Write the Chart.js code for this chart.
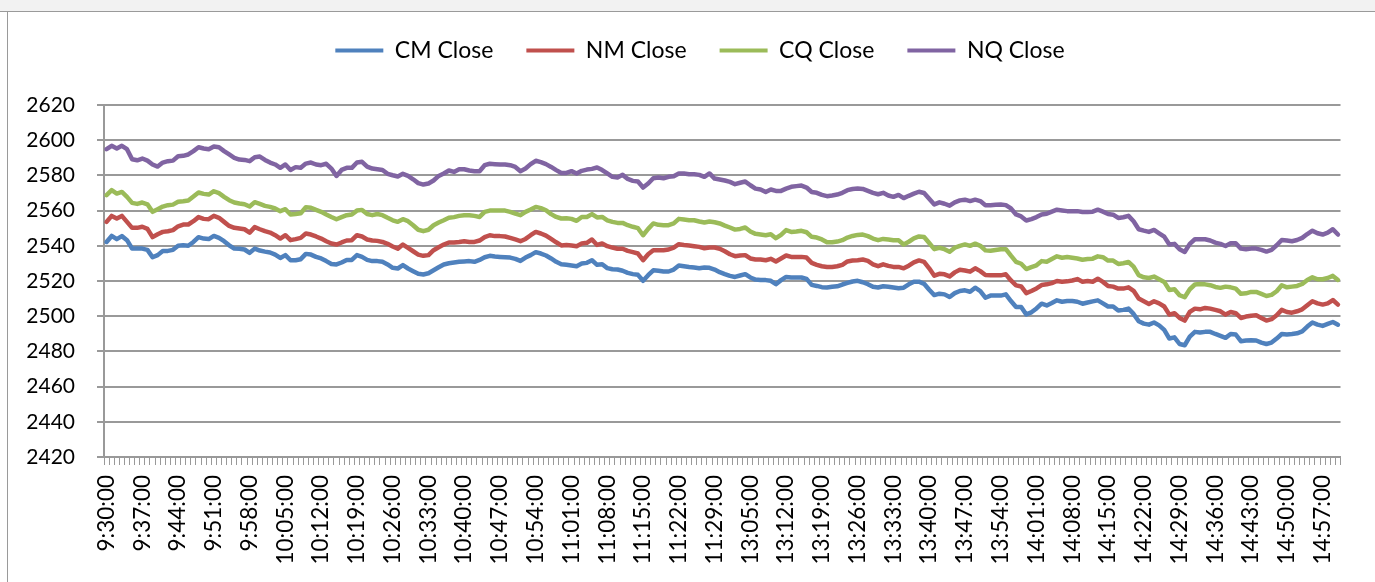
<!DOCTYPE html>
<html>
<head>
<meta charset="utf-8">
<script src="https://cdn.jsdelivr.net/npm/chart.js@4.4.0/dist/chart.umd.min.js"></script>
<style>
  html, body { margin: 0; padding: 0; background: #fff; }
  #band { position: absolute; left: 0; top: 0; width: 1375px; height: 11px; background: #f2f2f2; border-bottom: 1px solid #9a9a9a; }
  #frame { position: absolute; left: 7px; top: 12px; width: 1368px; height: 570px; border-left: 1px solid #9a9a9a; }
  #wrap { position: absolute; left: 0; top: 0; width: 1375px; height: 582px; }
</style>
</head>
<body>
<div id="band"></div>
<div id="frame"></div>
<div id="wrap"><canvas id="chart"></canvas></div>
<script>
// trading sessions, one category per minute
const SESSIONS = [["9:30", "11:30"], ["13:00", "15:00"]];

const cmClose = [
  2542.2, 2545.6, 2543.8, 2545.5, 2543.2, 2538.4, 2538.4, 2538.4, 2537.7, 2533.5,
  2534.7, 2537.1, 2537.1, 2537.7, 2540.0, 2540.3, 2540.0, 2542.2, 2544.9, 2544.1,
  2543.8, 2545.6, 2544.5, 2542.6, 2540.3, 2538.4, 2538.3, 2537.9, 2536.0, 2538.4,
  2537.3, 2536.7, 2536.2, 2535.0, 2533.1, 2534.7, 2531.8, 2531.8, 2532.4,
  2535.4, 2535.0, 2533.7, 2532.8, 2531.3, 2529.7, 2529.4, 2530.5, 2532.0, 2532.0,
  2534.7, 2533.7, 2532.0, 2531.3, 2531.3, 2530.9, 2529.4, 2527.5, 2527.1, 2529.0,
  2527.1, 2525.6, 2524.1, 2523.7, 2524.4, 2526.1, 2527.8, 2529.4, 2530.1, 2530.5,
  2530.9, 2531.1, 2531.3, 2530.9, 2532.0, 2533.5, 2534.3, 2533.9, 2533.7, 2533.5,
  2533.3, 2532.6, 2531.4, 2533.3, 2534.7, 2536.4, 2535.6, 2534.5, 2532.8, 2530.9,
  2529.5, 2529.2, 2528.8, 2528.4, 2529.9, 2530.3, 2531.8, 2529.2, 2529.5, 2527.3,
  2526.7, 2526.5, 2525.8, 2524.6, 2523.9, 2523.5, 2520.1, 2523.3, 2526.1, 2525.8,
  2525.4, 2525.4, 2526.5, 2528.8, 2528.4, 2528.0, 2527.7, 2527.3,
  2527.7, 2527.5, 2526.5, 2525.0, 2523.9, 2522.9, 2522.3, 2523.1, 2523.9, 2522.0,
  2520.8, 2520.6, 2520.5, 2520.1, 2518.2, 2520.5, 2522.3, 2522.0, 2522.0, 2522.0,
  2521.2, 2517.8, 2517.2, 2516.5, 2516.3, 2516.7, 2517.0, 2518.0, 2518.9, 2519.7,
  2520.1, 2519.3, 2518.2, 2516.7, 2516.3, 2517.0, 2516.7, 2516.3, 2515.9,
  2516.2, 2518.1, 2519.6, 2519.6, 2518.4, 2515.0, 2512.0, 2512.8, 2512.4, 2510.9,
  2513.1, 2514.3, 2514.7, 2513.9, 2516.2, 2514.3, 2510.5, 2511.7, 2511.7, 2511.7,
  2512.4, 2508.6, 2505.2, 2505.2, 2501.0, 2502.2, 2504.4, 2507.1, 2506.1, 2507.5,
  2509.0, 2508.2, 2508.6, 2508.6, 2508.2, 2507.1, 2507.8, 2508.4, 2509.0,
  2507.3, 2505.5, 2505.5, 2503.2, 2503.6, 2504.3, 2501.3, 2497.1, 2495.8, 2495.2,
  2496.4, 2494.8, 2492.2, 2487.3, 2488.0, 2484.2, 2483.5, 2488.4, 2491.1, 2490.7,
  2491.1, 2491.1, 2489.9, 2488.8, 2487.7, 2489.9, 2489.6, 2485.8, 2486.2, 2486.3,
  2486.2, 2485.0, 2484.2, 2485.0, 2487.3, 2489.9, 2489.6, 2489.9, 2490.3, 2491.4,
  2494.1, 2496.4, 2495.2, 2494.5, 2495.6, 2496.7, 2495.2
];

const nmClose = [
  2553.6, 2557.0, 2555.5, 2557.0, 2553.6, 2550.2, 2550.2, 2550.8, 2549.6, 2544.9,
  2546.6, 2547.9, 2548.3, 2548.9, 2551.1, 2552.1, 2552.1, 2554.0, 2556.3, 2555.3,
  2555.1, 2557.0, 2555.9, 2553.6, 2551.3, 2550.2, 2549.8, 2549.4, 2547.5, 2550.6,
  2549.4, 2548.3, 2547.5, 2546.0, 2544.1, 2546.0, 2543.2, 2543.8, 2544.5,
  2547.0, 2546.4, 2545.3, 2544.1, 2542.6, 2541.3, 2540.7, 2541.9, 2543.0, 2543.2,
  2546.0, 2545.3, 2543.6, 2543.0, 2542.8, 2542.2, 2541.1, 2539.6, 2538.4, 2540.7,
  2538.8, 2536.9, 2535.0, 2534.3, 2534.7, 2537.5, 2539.2, 2540.7, 2541.9, 2541.9,
  2542.2, 2542.6, 2542.2, 2542.2, 2543.0, 2544.9, 2546.0, 2545.5, 2545.5, 2545.3,
  2544.5, 2543.6, 2542.6, 2543.9, 2546.0, 2547.9, 2547.0, 2545.8, 2543.9, 2542.0,
  2540.2, 2540.5, 2540.2, 2539.8, 2541.3, 2541.7, 2543.6, 2540.5, 2541.3, 2539.8,
  2539.0, 2538.3, 2538.3, 2537.1, 2536.4, 2535.6, 2531.8, 2535.2, 2537.5, 2537.5,
  2537.5, 2537.9, 2539.0, 2540.9, 2540.5, 2540.2, 2539.8, 2539.4,
  2538.6, 2539.0, 2539.0, 2538.3, 2536.9, 2535.2, 2534.1, 2534.5, 2534.7, 2532.8,
  2532.2, 2532.2, 2531.8, 2532.6, 2531.1, 2532.8, 2534.5, 2533.7, 2533.7, 2533.7,
  2533.3, 2530.3, 2529.2, 2528.4, 2528.0, 2528.0, 2528.4, 2529.2, 2531.1, 2531.6,
  2531.8, 2532.2, 2531.4, 2529.5, 2528.4, 2529.5, 2528.6, 2528.0, 2528.0,
  2527.2, 2528.7, 2530.6, 2531.7, 2530.9, 2527.2, 2523.0, 2524.1, 2523.8, 2522.6,
  2524.9, 2526.4, 2526.0, 2525.3, 2527.2, 2525.6, 2523.4, 2523.2, 2523.2, 2523.2,
  2523.8, 2520.3, 2517.5, 2516.9, 2513.1, 2514.3, 2515.8, 2517.7, 2518.1, 2518.8,
  2520.0, 2519.6, 2519.8, 2520.3, 2521.1, 2519.6, 2520.0, 2519.6, 2521.3,
  2519.5, 2517.2, 2516.8, 2515.7, 2515.7, 2516.4, 2514.4, 2510.0, 2508.5, 2507.0,
  2508.5, 2507.3, 2505.5, 2500.9, 2501.7, 2499.0, 2497.5, 2502.4, 2504.3, 2503.9,
  2504.7, 2504.3, 2503.6, 2502.8, 2500.9, 2502.4, 2501.7, 2499.0, 2499.8, 2500.3,
  2500.5, 2499.0, 2497.5, 2498.3, 2500.5, 2503.6, 2502.4, 2502.0, 2502.8, 2503.9,
  2506.2, 2508.5, 2507.3, 2506.6, 2507.3, 2509.2, 2506.6
];

const cqClose = [
  2568.8, 2571.6, 2569.7, 2570.6, 2567.8, 2564.4, 2563.8, 2564.6, 2563.6, 2559.3,
  2560.8, 2562.3, 2563.1, 2563.4, 2565.0, 2565.3, 2565.7, 2568.0, 2570.3, 2569.5,
  2569.1, 2571.0, 2569.9, 2567.8, 2565.9, 2564.6, 2564.0, 2563.6, 2562.3, 2564.8,
  2563.8, 2562.7, 2562.1, 2561.2, 2559.7, 2560.8, 2557.8, 2558.1, 2558.5,
  2561.9, 2561.6, 2560.4, 2559.3, 2557.8, 2556.4, 2555.1, 2556.3, 2557.4, 2557.8,
  2560.0, 2560.4, 2558.1, 2557.4, 2558.1, 2557.4, 2555.9, 2554.5, 2553.6, 2555.1,
  2554.0, 2551.7, 2549.1, 2548.3, 2549.1, 2551.7, 2553.2, 2554.5, 2555.9, 2556.3,
  2557.0, 2557.4, 2557.4, 2557.0, 2556.4, 2559.3, 2560.0, 2560.0, 2560.0, 2560.0,
  2559.3, 2558.3, 2557.4, 2559.3, 2560.6, 2562.1, 2561.4, 2560.2, 2558.0, 2556.4,
  2555.5, 2555.7, 2555.3, 2554.2, 2556.4, 2556.4, 2558.0, 2556.1, 2556.4, 2554.5,
  2553.6, 2553.0, 2553.0, 2551.7, 2550.8, 2550.0, 2546.0, 2549.6, 2552.7, 2551.9,
  2551.7, 2551.7, 2552.7, 2555.3, 2554.9, 2554.5, 2554.5, 2553.8,
  2553.2, 2553.8, 2553.4, 2552.7, 2551.5, 2550.4, 2549.2, 2549.6, 2550.4, 2548.1,
  2546.8, 2546.4, 2546.0, 2546.6, 2544.3, 2546.2, 2548.9, 2547.9, 2548.1, 2548.5,
  2547.7, 2545.1, 2544.7, 2543.6, 2542.0, 2542.0, 2542.4, 2543.2, 2544.7, 2545.6,
  2546.2, 2546.4, 2545.5, 2544.1, 2543.2, 2543.9, 2543.6, 2543.2, 2543.2,
  2540.8, 2542.3, 2544.2, 2545.3, 2545.0, 2541.6, 2538.1, 2538.9, 2538.1, 2536.6,
  2538.9, 2540.0, 2540.8, 2540.0, 2541.2, 2540.0, 2537.4, 2537.2, 2537.6, 2538.0,
  2538.1, 2534.4, 2530.9, 2529.8, 2526.8, 2527.9, 2528.9, 2531.3, 2530.9, 2532.5,
  2534.0, 2533.2, 2533.6, 2533.2, 2532.8, 2532.1, 2532.5, 2532.7, 2534.0,
  2533.5, 2531.6, 2531.6, 2529.7, 2530.1, 2530.8, 2528.2, 2523.3, 2522.1, 2521.7,
  2522.5, 2521.0, 2519.5, 2514.9, 2515.3, 2511.9, 2510.8, 2515.3, 2518.0, 2518.3,
  2518.1, 2517.6, 2516.6, 2516.1, 2516.8, 2516.4, 2515.7, 2512.7, 2513.0, 2513.8,
  2513.8, 2512.7, 2511.5, 2512.1, 2514.2, 2517.6, 2516.4, 2516.8, 2517.2, 2518.3,
  2520.6, 2522.1, 2521.0, 2521.0, 2521.7, 2522.9, 2520.6
];

const nqClose = [
  2594.9, 2596.8, 2595.3, 2596.8, 2594.9, 2589.2, 2588.6, 2589.6, 2588.4, 2586.2,
  2585.0, 2587.3, 2588.1, 2588.4, 2590.9, 2591.1, 2591.9, 2593.8, 2596.0, 2595.3,
  2594.9, 2596.4, 2596.0, 2593.8, 2591.9, 2590.0, 2589.0, 2588.8, 2588.1, 2590.3,
  2590.7, 2588.8, 2587.3, 2586.2, 2584.3, 2586.2, 2583.1, 2584.7, 2584.3,
  2586.7, 2587.3, 2586.2, 2585.8, 2586.6, 2583.9, 2579.7, 2583.1, 2584.3, 2584.3,
  2587.3, 2587.7, 2585.0, 2583.9, 2583.5, 2583.1, 2580.9, 2580.1, 2579.4, 2580.9,
  2579.7, 2577.8, 2575.6, 2574.8, 2575.4, 2577.1, 2579.7, 2581.1, 2582.8, 2582.0,
  2583.5, 2583.5, 2582.8, 2582.4, 2582.4, 2585.8, 2586.6, 2586.4, 2586.2, 2586.2,
  2585.8, 2584.8, 2582.4, 2583.9, 2586.4, 2588.3, 2587.5, 2586.4, 2584.8, 2583.0,
  2581.4, 2581.4, 2582.4, 2581.1, 2582.6, 2583.3, 2583.7, 2584.5, 2583.0, 2581.1,
  2579.2, 2578.8, 2580.3, 2578.0, 2576.9, 2576.5, 2573.1, 2575.4, 2578.4, 2578.8,
  2578.4, 2579.2, 2579.5, 2581.1, 2581.1, 2580.7, 2580.7, 2580.3,
  2579.2, 2581.1, 2578.2, 2577.7, 2577.1, 2576.3, 2575.0, 2575.8, 2576.5, 2574.4,
  2572.5, 2572.0, 2570.6, 2572.0, 2571.2, 2571.2, 2572.5, 2573.5, 2573.9, 2574.2,
  2573.1, 2570.6, 2570.1, 2568.9, 2568.2, 2568.6, 2569.1, 2570.1, 2571.6, 2572.3,
  2572.5, 2572.3, 2571.2, 2570.1, 2569.3, 2570.1, 2568.6, 2567.8, 2568.9,
  2567.1, 2568.4, 2569.6, 2570.7, 2570.0, 2566.7, 2563.5, 2564.7, 2563.9, 2562.8,
  2564.7, 2565.8, 2566.2, 2565.4, 2566.2, 2565.4, 2563.1, 2563.0, 2563.3, 2563.5,
  2563.1, 2561.2, 2557.8, 2556.7, 2554.4, 2555.2, 2556.3, 2557.8, 2558.2, 2559.4,
  2560.5, 2560.1, 2559.7, 2559.7, 2559.7, 2559.2, 2559.2, 2559.4, 2560.5,
  2559.4, 2558.1, 2557.7, 2555.8, 2556.2, 2557.0, 2553.9, 2549.4, 2548.6, 2547.9,
  2549.0, 2547.1, 2545.2, 2540.7, 2541.1, 2538.0, 2536.5, 2541.1, 2543.7, 2543.7,
  2543.7, 2543.0, 2541.8, 2541.1, 2539.9, 2541.4, 2541.4, 2538.4, 2538.0, 2538.4,
  2538.4, 2537.7, 2536.7, 2537.7, 2540.3, 2543.3, 2543.0, 2542.6, 2543.3, 2544.5,
  2546.7, 2548.6, 2547.1, 2546.4, 2547.5, 2549.4, 2546.4
];

// every 7th minute gets a label
const LABEL_EVERY = 7;

function buildTimes(sessions) {
  const out = [];
  sessions.forEach(([from, to]) => {
    const [h0, m0] = from.split(":").map(Number);
    const [h1, m1] = to.split(":").map(Number);
    for (let t = h0 * 60 + m0; t <= h1 * 60 + m1; t++) {
      const h = Math.floor(t / 60), m = t % 60;
      out.push(h + ":" + String(m).padStart(2, "0") + ":00");
    }
  });
  return out;
}

const times = buildTimes(SESSIONS);
const FONT = "Lato";

const series = [
  { label: "CM Close", data: cmClose, color: "#4F81BD" },
  { label: "NM Close", data: nmClose, color: "#C0504D" },
  { label: "CQ Close", data: cqClose, color: "#9BBB59" },
  { label: "NQ Close", data: nqClose, color: "#8064A2" },
];

// fixed legend block height, and nudge it right like the original
const legendBlock = {
  id: "legendBlock",
  beforeInit(chart) {
    const fit = chart.legend.fit;
    chart.legend.fit = function () {
      fit.call(this);
      this.height = 99;
    };
  },
  afterLayout(chart) {
    chart.legend.left += 22;
    chart.legend.right += 22;
  },
};

const ctx = document.getElementById("chart").getContext("2d");
new Chart(ctx, {
  type: "line",
  data: {
    labels: times,
    datasets: series.map((s) => ({
      label: s.label,
      data: s.data,
      borderColor: s.color,
      backgroundColor: s.color,
      borderWidth: 4.5,
      borderCapStyle: "round",
      borderJoinStyle: "round",
      pointRadius: 0,
      tension: 0,
      fill: false,
    })),
  },
  options: {
    responsive: true,
    maintainAspectRatio: false,
    animation: false,
    devicePixelRatio: 1,
    layout: { padding: { top: 6, right: 19, left: 0, bottom: 0 } },
    scales: {
      x: {
        type: "category",
        offset: true,
        grid: { offset: true, drawOnChartArea: false, tickLength: 8, color: "#999" },
        border: { color: "#999", width: 2 },
        ticks: {
          autoSkip: false,
          maxRotation: 90,
          minRotation: 90,
          padding: 10,
          color: "#000",
          font: { family: FONT, size: 22.5 },
          callback: (v, i) => (i % LABEL_EVERY === 0 ? times[i] : ""),
        },
        afterFit: (scale) => { scale.height = 125; },
      },
      y: {
        min: 2420,
        max: 2620,
        grid: { color: "#999", lineWidth: 2, tickLength: 7 },
        border: { color: "#999", width: 2 },
        ticks: {
          stepSize: 20,
          padding: 22,
          color: "#000",
          font: { family: FONT, size: 21 },
          callback: (v) => String(v),
        },
        afterFit: (scale) => { scale.width = 104; },
      },
    },
    plugins: {
      legend: {
        position: "top",
        align: "center",
        labels: {
          boxWidth: 48,
          boxHeight: 4,
          padding: 33,
          color: "#000",
          font: { family: FONT, size: 23 },
          generateLabels: (chart) =>
            Chart.defaults.plugins.legend.labels.generateLabels(chart).map((l) => ({
              ...l,
              lineWidth: 0,
              fillStyle: l.strokeStyle,
            })),
        },
      },
      tooltip: { enabled: false },
    },
  },
  plugins: [legendBlock],
});
</script>
</body>
</html>
